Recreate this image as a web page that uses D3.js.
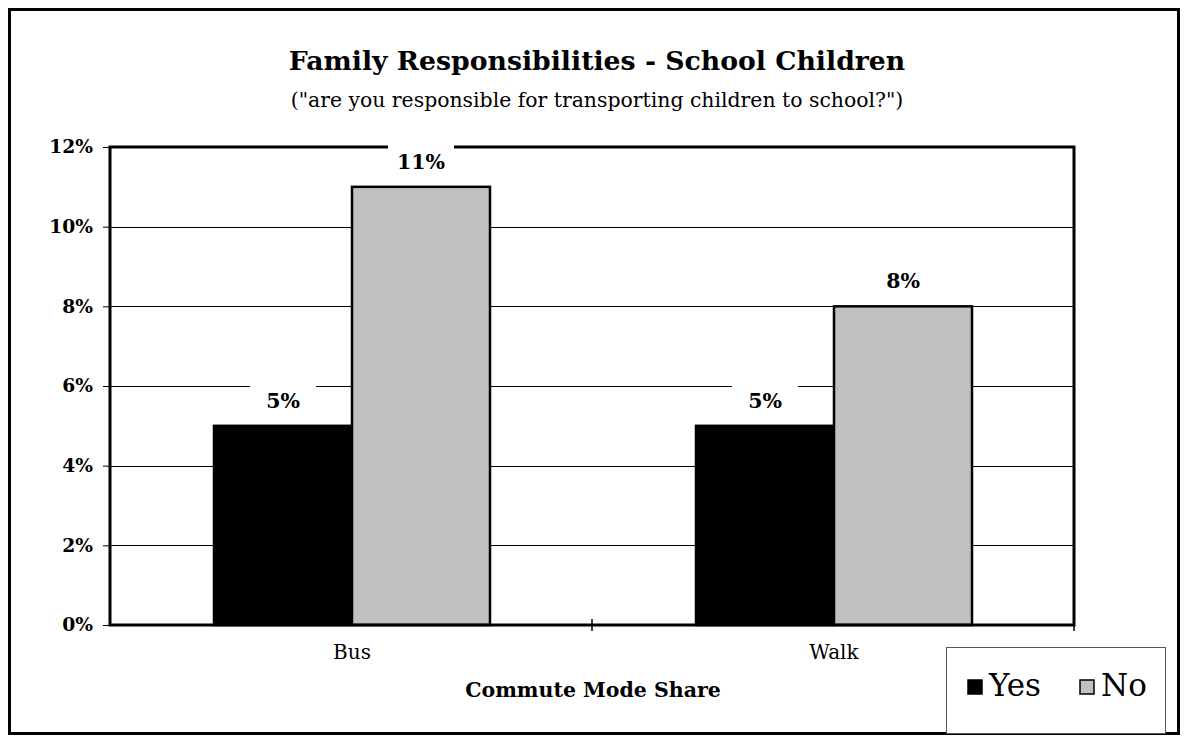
<!DOCTYPE html>
<html>
<head>
<meta charset="utf-8">
<script src="https://cdn.jsdelivr.net/npm/d3@7"></script>
<style>
  html, body { margin: 0; padding: 0; background: #fff; }
  svg { display: block; }
  text { font-family: "DejaVu Serif", "Liberation Serif", serif; fill: #000; }
</style>
</head>
<body>
<svg id="chart" width="1184" height="737"></svg>
<script>
// Commute mode share by school-transport responsibility
const categories = ["Bus", "Walk"];
const seriesNames = ["Yes", "No"];
const yesValues = [0.05, 0.05];
const noValues = [0.11, 0.08];
const yTicks = [0, 0.02, 0.04, 0.06, 0.08, 0.10, 0.12];
const seriesColors = ["#000000", "#c0c0c0"];

const titleText = "Family Responsibilities - School Children";
const subtitleText = "(\"are you responsible for transporting children to school?\")";
const xAxisTitle = "Commute Mode Share";

const svg = d3.select("#chart");

// outer frame
svg.append("rect")
  .attr("x", 9.5).attr("y", 9.5)
  .attr("width", 1169).attr("height", 724)
  .attr("fill", "#fff").attr("stroke", "#000").attr("stroke-width", 3);

const plot = { left: 110, right: 1074, top: 147, bottom: 625 };

const x0 = d3.scaleBand().domain(categories)
  .range([plot.left, plot.right]).paddingInner(0).paddingOuter(0);
const groupWidth = 276;
const x1 = d3.scaleBand().domain(seriesNames).range([0, groupWidth]);
const y = d3.scaleLinear().domain([0, 0.12]).range([plot.bottom, plot.top]);

// title
svg.append("text")
  .attr("x", 597).attr("y", 70)
  .attr("text-anchor", "middle")
  .attr("font-size", 26.7).attr("font-weight", "bold")
  .text(titleText);
svg.append("text")
  .attr("x", 597).attr("y", 107)
  .attr("text-anchor", "middle")
  .attr("font-size", 20.4)
  .text(subtitleText);

// gridlines
svg.append("g").selectAll("line")
  .data(yTicks.filter(t => t > 0 && t < 0.12))
  .join("line")
  .attr("x1", plot.left).attr("x2", plot.right)
  .attr("y1", d => Math.round(y(d)) + 0.5).attr("y2", d => Math.round(y(d)) + 0.5)
  .attr("stroke", "#000").attr("stroke-width", 1);

// y axis
const yAxis = d3.axisLeft(y).tickValues(yTicks)
  .tickFormat(d3.format(".0%")).tickSize(7).tickPadding(10);
const yG = svg.append("g").attr("transform", `translate(${plot.left},0)`).call(yAxis);
yG.select(".domain").remove();
yG.selectAll(".tick line").attr("stroke", "#000");
yG.selectAll(".tick text")
  .attr("font-family", "DejaVu Serif, serif")
  .attr("font-size", 18.7).attr("font-weight", "bold").attr("fill", "#000");

// bars
const rows = categories.map((c, i) => ({ cat: c, vals: [yesValues[i], noValues[i]] }));
const groupOffset = (x0.bandwidth() - groupWidth) / 2 + 1;
const groups = svg.append("g").selectAll("g")
  .data(rows).join("g")
  .attr("transform", d => `translate(${x0(d.cat) + groupOffset},0)`);

groups.selectAll("rect")
  .data(d => d.vals.map((v, k) => ({ key: seriesNames[k], v, k })))
  .join("rect")
  .attr("x", d => x1(d.key))
  .attr("y", d => y(d.v))
  .attr("width", x1.bandwidth())
  .attr("height", d => plot.bottom - y(d.v))
  .attr("fill", d => seriesColors[d.k])
  .attr("stroke", "#000").attr("stroke-width", 2.5);

// plot frame
svg.append("rect")
  .attr("x", plot.left).attr("y", plot.top)
  .attr("width", plot.right - plot.left).attr("height", plot.bottom - plot.top)
  .attr("fill", "none").attr("stroke", "#000").attr("stroke-width", 3);

// x axis ticks (category boundaries)
svg.append("g").selectAll("line")
  .data(categories.slice(1).map(c => x0(c)).concat([plot.right]))
  .join("line")
  .attr("x1", d => d).attr("x2", d => d)
  .attr("y1", plot.bottom - 6).attr("y2", plot.bottom + 6)
  .attr("stroke", "#000").attr("stroke-width", 1.5);

// category labels
svg.append("g").selectAll("text")
  .data(categories).join("text")
  .attr("x", d => x0(d) + x0.bandwidth() / 2 + 1)
  .attr("y", 659)
  .attr("text-anchor", "middle")
  .attr("font-size", 20)
  .text(d => d);

svg.append("text")
  .attr("x", 593).attr("y", 697)
  .attr("text-anchor", "middle")
  .attr("font-size", 20.5).attr("font-weight", "bold")
  .text(xAxisTitle);

// value labels with white backing
const labels = svg.append("g");
rows.forEach(r => {
  r.vals.forEach((v, k) => {
    const cx = x0(r.cat) + groupOffset + x1(seriesNames[k]) + x1.bandwidth() / 2;
    const base = y(v) - 18;
    const g = labels.append("g");
    g.append("rect")
      .attr("x", cx - 33).attr("y", base - 26)
      .attr("width", 66).attr("height", 34)
      .attr("fill", "#fff");
    g.append("text")
      .attr("x", cx).attr("y", base)
      .attr("text-anchor", "middle")
      .attr("font-size", 20.5).attr("font-weight", "bold")
      .text(d3.format(".0%")(v));
  });
});

// legend
const lg = svg.append("g");
lg.append("rect")
  .attr("x", 946.5).attr("y", 647.5).attr("width", 219).attr("height", 86)
  .attr("fill", "#fff").attr("stroke", "#555").attr("stroke-width", 1);
const legendX = [968, 1080];
seriesNames.forEach((s, k) => {
  lg.append("rect")
    .attr("x", legendX[k]).attr("y", 680)
    .attr("width", 14).attr("height", 14)
    .attr("fill", seriesColors[k]).attr("stroke", "#000").attr("stroke-width", 1.5);
  lg.append("text")
    .attr("x", legendX[k] + 21).attr("y", 696)
    .attr("font-family", "Liberation Serif, serif")
    .attr("font-size", 31)
    .text(s);
});
</script>
</body>
</html>
